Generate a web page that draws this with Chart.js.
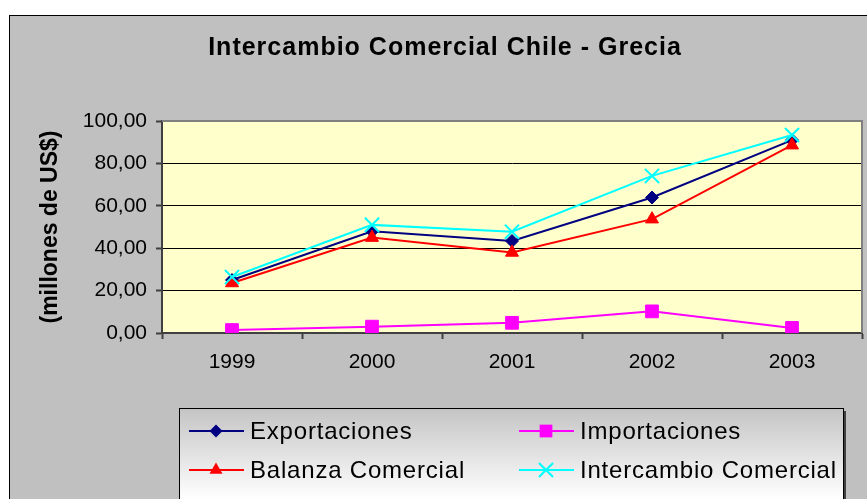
<!DOCTYPE html>
<html>
<head>
<meta charset="utf-8">
<script src="https://cdn.jsdelivr.net/npm/chart.js@4.4.1/dist/chart.umd.min.js"></script>
<style>
  html, body { margin:0; padding:0; background:#fff; }
  #wrap { width:867px; height:499px; position:relative; overflow:hidden; }
</style>
</head>
<body>
<div id="wrap"><canvas id="chart" width="867" height="499"></canvas></div>
<script>
// values (millones de US$)
const years = ['1999', '2000', '2001', '2002', '2003'];
const exportaciones = [25.0, 48.0, 43.4, 63.9, 91.0];
const importaciones = [1.4, 3.0, 4.8, 10.2, 2.4];
const balanza = [23.6, 45.0, 38.0, 53.7, 88.6];
const intercambio = [26.4, 51.0, 47.8, 74.1, 93.4];
const yMin = 0, yMax = 100, yStep = 20;

const chartTitle = 'Intercambio Comercial Chile - Grecia';
const yTitle = '(millones de US$)';
const FONT = "'Liberation Sans', Arial, sans-serif";

const series = [
  {label:'Exportaciones', data:exportaciones, color:'#000080', style:'rectRot', radius:6.5, order:4},
  {label:'Importaciones', data:importaciones, color:'#ff00ff', style:'rect', radius:9, order:3},
  {label:'Balanza Comercial', data:balanza, color:'#ff0000', style:'triangle', radius:7.5, order:2},
  {label:'Intercambio Comercial', data:intercambio, color:'#00ffff', style:'crossRot', radius:10, order:1}
];

// small marker painter for the hand drawn legend
function marker(ctx, style, x, y, r, color){
  ctx.save();
  ctx.fillStyle = color; ctx.strokeStyle = color; ctx.lineWidth = 2;
  ctx.beginPath();
  if(style === 'rectRot'){
    ctx.moveTo(x, y - r); ctx.lineTo(x + r, y); ctx.lineTo(x, y + r); ctx.lineTo(x - r, y);
    ctx.closePath(); ctx.fill();
  } else if(style === 'rect'){
    const s = r * Math.SQRT1_2;
    ctx.rect(x - s, y - s, 2 * s, 2 * s); ctx.fill();
  } else if(style === 'triangle'){
    for(let i = 0; i < 3; i++){
      const a = i * 2 * Math.PI / 3;
      const px = x + Math.sin(a) * r, py = y - Math.cos(a) * r;
      i ? ctx.lineTo(px, py) : ctx.moveTo(px, py);
    }
    ctx.closePath(); ctx.fill();
  } else {
    const s = r * Math.SQRT1_2;
    ctx.moveTo(x - s, y - s); ctx.lineTo(x + s, y + s);
    ctx.moveTo(x + s, y - s); ctx.lineTo(x - s, y + s);
    ctx.stroke();
  }
  ctx.restore();
}

const frame = {
  id:'frame',
  beforeDraw(chart){
    const ctx = chart.ctx, a = chart.chartArea;
    ctx.save();
    ctx.fillStyle = '#ffffff';
    ctx.fillRect(0, 0, chart.width, chart.height);
    ctx.fillStyle = '#c0c0c0';
    ctx.fillRect(9, 15, chart.width, chart.height);
    ctx.strokeStyle = '#000000'; ctx.lineWidth = 1;
    ctx.strokeRect(9.5, 15.5, chart.width + 10, chart.height + 10);
    ctx.fillStyle = '#ffffcc';
    ctx.fillRect(a.left, a.top, a.right - a.left, a.bottom - a.top);
    ctx.fillStyle = '#000000';
    ctx.font = 'bold 25px ' + FONT;
    ctx.letterSpacing = '1px';
    ctx.textAlign = 'center'; ctx.textBaseline = 'middle';
    ctx.fillText(chartTitle, 445, 48);
    ctx.restore();
  },
  beforeDatasetsDraw(chart){
    const ctx = chart.ctx, a = chart.chartArea;
    ctx.save();
    ctx.strokeStyle = '#808080'; ctx.lineWidth = 2;
    ctx.beginPath();
    ctx.moveTo(a.left, a.top); ctx.lineTo(a.right, a.top); ctx.lineTo(a.right, a.bottom);
    ctx.stroke();
    ctx.restore();
  },
  afterDraw(chart){
    const ctx = chart.ctx;
    ctx.save();
    // legend box with grey-to-white gradient and a drop shadow
    ctx.fillStyle = '#404040';
    ctx.fillRect(182, 411, 664, 100);
    const g = ctx.createLinearGradient(0, 408, 0, 499);
    g.addColorStop(0, '#c4c4c4'); g.addColorStop(1, '#ffffff');
    ctx.fillStyle = g;
    ctx.fillRect(179, 408, 664, 100);
    ctx.strokeStyle = '#000000'; ctx.lineWidth = 1;
    ctx.strokeRect(179.5, 408.5, 664, 100);
    const cols = [189, 519], rows = [431, 470];
    ctx.font = '24px ' + FONT;
    ctx.letterSpacing = '0.8px';
    ctx.textBaseline = 'middle'; ctx.textAlign = 'left';
    series.forEach((s, i) => {
      const x = cols[i % 2], y = rows[Math.floor(i / 2)];
      ctx.strokeStyle = s.color; ctx.lineWidth = 2;
      ctx.beginPath(); ctx.moveTo(x, y); ctx.lineTo(x + 55, y); ctx.stroke();
      marker(ctx, s.style, x + 27, y, s.radius, s.color);
      ctx.fillStyle = '#000000';
      ctx.fillText(s.label, x + 61, y + 1);
    });
    ctx.restore();
  }
};

new Chart(document.getElementById('chart'), {
  type:'line',
  data:{
    labels: years,
    datasets: series.map(s => ({
      label: s.label,
      data: s.data,
      borderColor: s.color,
      backgroundColor: s.color,
      borderWidth: 2,
      pointStyle: s.style,
      pointRadius: s.radius,
      pointBorderWidth: s.style === 'crossRot' ? 2 : 1,
      pointBackgroundColor: s.color,
      pointBorderColor: s.color,
      tension: 0,
      fill: false,
      order: s.order
    }))
  },
  options:{
    responsive:false,
    animation:false,
    devicePixelRatio:1,
    layout:{autoPadding:false, padding:{left:0, top:121, right:5, bottom:126}},
    plugins:{legend:{display:false}, title:{display:false}, tooltip:{enabled:false}},
    scales:{
      x:{
        offset:true,
        afterFit(s){ s.height = 40; s.paddingLeft = 0; s.paddingRight = 0; },
        grid:{offset:true, drawOnChartArea:false, drawTicks:true, tickLength:6, tickColor:'#404040', tickWidth:2},
        border:{color:'#404040', width:2},
        ticks:{color:'#000', padding:11, font:{family:FONT, size:21}}
      },
      y:{
        min:yMin, max:yMax,
        afterFit(s){ s.width = 162; },
        grid:{color:'#000000', lineWidth:1, tickLength:6, tickColor:'#404040', tickWidth:2},
        border:{color:'#404040', width:2},
        ticks:{stepSize:yStep, color:'#000', padding:9, font:{family:FONT, size:21},
          callback: v => v.toFixed(2).replace('.', ',')},
        title:{display:true, text:yTitle, color:'#000', padding:{top:37, bottom:0},
          font:{family:FONT, size:23, weight:'bold'}}
      }
    }
  },
  plugins:[frame]
});
</script>
</body>
</html>
